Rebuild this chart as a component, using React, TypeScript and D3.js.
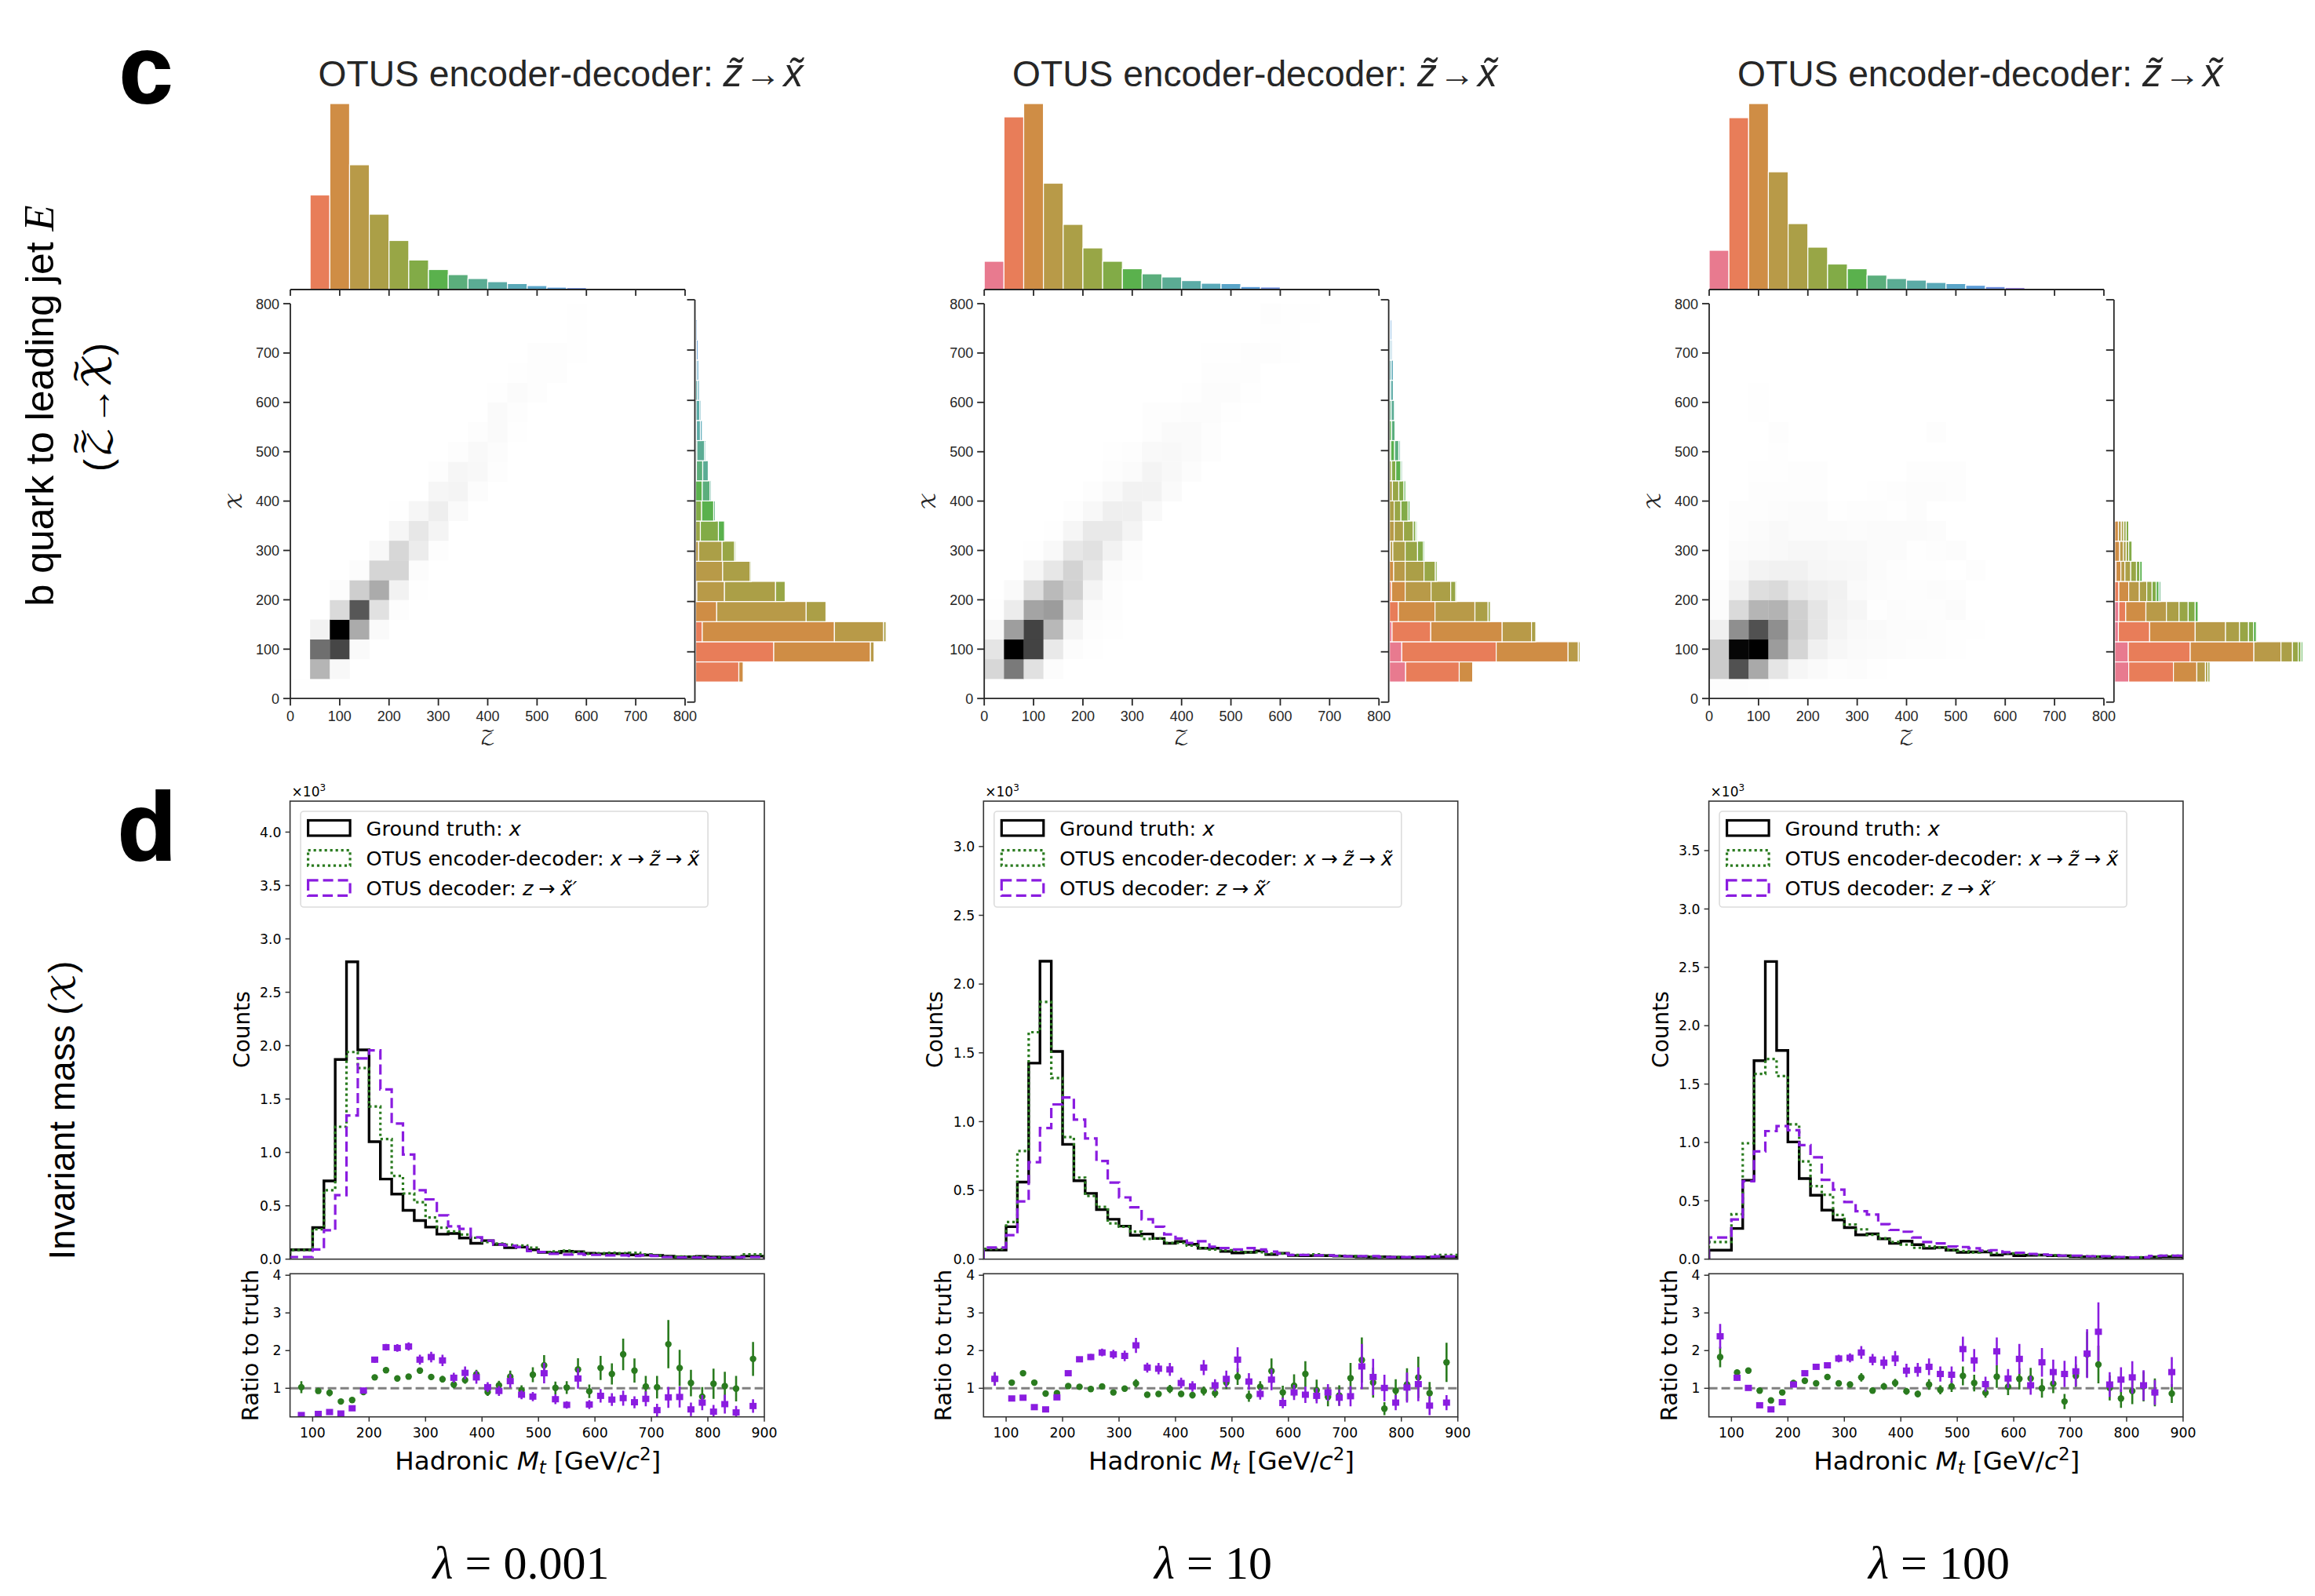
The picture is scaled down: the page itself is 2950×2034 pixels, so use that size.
import React from "react";
import * as d3 from "d3";

// ---------- shared categories ----------
const heatTicks = [0, 100, 200, 300, 400, 500, 600, 700, 800];
const binSize = 40;
const massEdges = [60, ...d3.range(100, 861, 20), 900];
const massCenters = [80, ...d3.range(110, 851, 20), 880];
const massTicks = [100, 200, 300, 400, 500, 600, 700, 800, 900];
const ratioTicks = [1, 2, 3, 4];
const binColors = ["#e87a8f", "#e87d59", "#cf8d45", "#b89a48", "#ab9f47", "#98a646", "#82ab47", "#5ab14d", "#5bae7c", "#5bac94", "#5baba6", "#5aa9b8", "#5aa5c8", "#5a9bd6", "#6d8cdc", "#9880de", "#c077dc", "#d870c8", "#e072b0", "#e87a9f"];
const panelTitles = ["λ = 0.001", "λ = 10", "λ = 100"];

// ---------- top marginals (per z bin) ----------
const topHist1 = [0, 120.5, 237, 159, 96, 62.5, 37.6, 25.5, 19, 14, 10, 7.6, 5, 3, 2.5];
const topHist2 = [36, 220, 237, 135.5, 83, 53, 36, 26.5, 20, 16, 11.4, 8, 7.6, 3.8, 3.2, 1];
const topHist3 = [50, 219, 237, 150, 84, 54, 32.5, 26.5, 18.4, 14, 12, 9, 7.6, 5.4, 3.8, 2.7, 1.6, 1.6, 0.5];

// ---------- right marginals: [y bin, first z bin, cumulative stack ends...] ----------
const sideHist1 = [
  [1, 1, 55, 60.5], [2, 1, 99.5, 222.7, 227.3], [3, 1, 8.4, 176.8, 239.5, 242.6], [4, 2, 26.8, 140.8, 166],
  [5, 2, 1.5, 36.7, 101.8, 114], [6, 3, 34.4, 69.6, 71], [7, 3, 3.8, 33.7, 49.7, 51.3], [8, 5, 6, 29, 36.7],
  [9, 6, 7.6, 23, 25], [10, 7, 8.4, 18.4, 20], [11, 7, 1, 9, 16], [12, 8, 1.5, 11.5, 13], [13, 9, 1, 6, 8.4],
  [14, 9, 0.5, 5.4, 7], [15, 10, 2.3, 4.6], [16, 11, 1.5, 3.8], [17, 12, 1, 3], [18, 13, 1.5],
];
const sideHist2 = [
  [1, 0, 20.6, 88.9, 106], [2, 0, 15.7, 136, 227.6, 240.7, 242.8], [3, 0, 3.3, 52.6, 143.6, 181, 186.4],
  [4, 1, 11.4, 58, 108.9, 125.7, 128.5], [5, 1, 2.7, 20, 53, 78, 84.6, 86], [6, 2, 5.4, 20, 44, 58.5, 60.7],
  [7, 2, 1, 4.3, 20, 35.8, 43.4, 45], [8, 3, 6, 17.9, 30.4, 33.6, 35.2], [9, 4, 6, 14.6, 23.8, 26],
  [10, 4, 3.8, 11.9, 18.4, 20.6], [11, 5, 2.7, 8, 14.6, 16.3], [12, 6, 1.6, 6.5, 11.9, 13.6], [13, 7, 2.7, 7, 8],
  [14, 8, 2.2, 6.5, 7.6], [15, 9, 1.6, 4.9], [16, 10, 2.2, 4.9], [17, 11, 1.6, 3.3], [18, 12, 1, 2.7],
];
const sideHist3 = [
  [1, 0, 17.8, 74.8, 104.6, 115.6, 118.7, 121.3], [2, 0, 17.3, 96.2, 177.3, 211.8, 226.5, 233.8, 237.4, 239.5],
  [3, 0, 4.7, 44.5, 102.5, 141.2, 159, 170.5, 176.8, 180.4], [4, 0, 5.2, 14, 39.7, 65.9, 82, 93.6, 102.5, 106.2],
  [5, 1, 5.2, 17.8, 31.4, 40.8, 47.6, 52.8, 56.5, 58.6], [6, 1, 1.6, 7.8, 13, 20.4, 27.7, 31.9, 35],
  [7, 2, 6.3, 11, 14.6, 17.8, 22], [8, 2, 4.7, 8.4, 11.5, 14.6, 17.8], [9, 3, 0.8],
];

// ---------- 2D histograms, density by row (from y = 0) and column ----------
const heat1 = [
  [0.004, 0.008],
  [0, 0.33, 0.04],
  [0, 0.6, 0.75, 0.03],
  [0, 0.07, 1, 0.37, 0.03],
  [0, 0, 0.18, 0.69, 0.15, 0.016],
  [0, 0, 0.02, 0.23, 0.37, 0.07, 0.004],
  [0, 0, 0, 0.02, 0.2, 0.2, 0.02],
  [0, 0, 0, 0, 0.04, 0.19, 0.1, 0.012],
  [0, 0, 0, 0, 0, 0.05, 0.12, 0.06],
  [0, 0, 0, 0, 0, 0.008, 0.05, 0.09, 0.03],
  [0, 0, 0, 0, 0, 0, 0, 0.05, 0.06, 0.02],
  [0, 0, 0, 0, 0, 0, 0, 0.016, 0.05, 0.04, 0.012],
  [0, 0, 0, 0, 0, 0, 0, 0, 0.012, 0.035, 0.02],
  [0, 0, 0, 0, 0, 0, 0, 0, 0, 0.016, 0.03, 0.008],
  [0, 0, 0, 0, 0, 0, 0, 0, 0, 0, 0.03, 0.016],
  [0, 0, 0, 0, 0, 0, 0, 0, 0, 0, 0.008, 0.024, 0.012],
  [0, 0, 0, 0, 0, 0, 0, 0, 0, 0, 0, 0.008, 0.016, 0.016],
  [0, 0, 0, 0, 0, 0, 0, 0, 0, 0, 0, 0, 0.016, 0.016, 0.008],
  [0, 0, 0, 0, 0, 0, 0, 0, 0, 0, 0, 0, 0, 0, 0.008],
  [0, 0, 0, 0, 0, 0, 0, 0, 0, 0, 0, 0, 0, 0, 0.008],
];
const heat2 = [
  [],
  [0.19, 0.56, 0.15, 0.02],
  [0.13, 1, 0.76, 0.11, 0.02, 0.004],
  [0.04, 0.42, 0.76, 0.32, 0.06, 0.012, 0.004],
  [0.004, 0.1, 0.4, 0.43, 0.15, 0.027, 0.016],
  [0, 0.03, 0.16, 0.31, 0.22, 0.06, 0.016],
  [0, 0, 0.05, 0.12, 0.21, 0.12, 0.027, 0.012],
  [0, 0, 0.008, 0.035, 0.12, 0.15, 0.07, 0.02],
  [0, 0, 0, 0.008, 0.05, 0.11, 0.11, 0.06],
  [0, 0, 0, 0, 0.012, 0.04, 0.085, 0.085, 0.035],
  [0, 0, 0, 0, 0, 0.012, 0.035, 0.07, 0.07, 0.03],
  [0, 0, 0, 0, 0, 0, 0.012, 0.027, 0.06, 0.04, 0.02],
  [0, 0, 0, 0, 0, 0, 0.004, 0.012, 0.035, 0.04, 0.03, 0.012],
  [0, 0, 0, 0, 0, 0, 0, 0, 0.012, 0.03, 0.03, 0.012],
  [0, 0, 0, 0, 0, 0, 0, 0, 0.012, 0.012, 0.02, 0.02, 0.004],
  [0, 0, 0, 0, 0, 0, 0, 0, 0, 0, 0.008, 0.02, 0.02, 0.004],
  [0, 0, 0, 0, 0, 0, 0, 0, 0, 0, 0, 0.016, 0.016, 0.012],
  [0, 0, 0, 0, 0, 0, 0, 0, 0, 0, 0, 0.004, 0.008, 0.012, 0.016, 0.004],
  [0, 0, 0, 0, 0, 0, 0, 0, 0, 0, 0, 0, 0, 0, 0.008, 0.004],
  [0, 0, 0, 0, 0, 0, 0, 0, 0, 0, 0, 0, 0, 0, 0.012, 0.008, 0.008],
];
const heat3 = [
  [0.012, 0.016, 0.004],
  [0.24, 0.71, 0.38, 0.13, 0.05, 0.03, 0.016, 0.02, 0.004],
  [0.24, 0.98, 1, 0.43, 0.2, 0.08, 0.047, 0.03, 0.024, 0.02, 0.012, 0.012, 0.008],
  [0.08, 0.48, 0.71, 0.48, 0.23, 0.13, 0.06, 0.035, 0.03, 0.02, 0.02, 0.016, 0.008, 0.008],
  [0.02, 0.18, 0.33, 0.34, 0.22, 0.13, 0.07, 0.05, 0.008, 0.02, 0.012, 0.016, 0.024],
  [0.016, 0.07, 0.16, 0.18, 0.11, 0.09, 0.075, 0.03, 0.02, 0.012, 0.012, 0.02, 0.012],
  [0, 0.035, 0.067, 0.075, 0.075, 0.05, 0.047, 0.04, 0.024, 0.012, 0.008, 0.004, 0, 0.016],
  [0, 0.027, 0.03, 0.035, 0.047, 0.043, 0.035, 0.035, 0.027, 0.024, 0.004, 0.016, 0.02],
  [0, 0.016, 0.027, 0.035, 0.027, 0.027, 0.027, 0.02, 0.024, 0.024, 0.024, 0.02],
  [0, 0.016, 0.016, 0.02, 0.027, 0.024, 0.004, 0.012, 0.012, 0.008, 0.02],
  [0, 0, 0.016, 0.012, 0.016, 0.012, 0, 0, 0.008, 0.012, 0.02, 0.02, 0.016],
  [0, 0, 0.008, 0.004, 0.016, 0.012, 0, 0, 0, 0, 0.012, 0.012, 0.012],
  [0, 0, 0, 0.008],
  [0, 0, 0, 0.012, 0, 0, 0, 0, 0, 0, 0, 0.012],
  [0, 0, 0.004],
  [0, 0, 0.004],
];

// ---------- invariant-mass histograms (×10³) ----------
const truth1 = [0.088, 0.295, 0.733, 1.87, 2.785, 1.96, 1.1, 0.75, 0.61, 0.457, 0.362, 0.3, 0.234, 0.24, 0.198, 0.149, 0.173, 0.137, 0.107, 0.113, 0.088, 0.064, 0.06, 0.073, 0.07, 0.055, 0.05, 0.052, 0.05, 0.04, 0.038, 0.035, 0.028, 0.02, 0.022, 0.025, 0.02, 0.018, 0.018, 0.028];
const encoded1 = [0.085, 0.28, 0.645, 1.24, 1.94, 1.79, 1.43, 1.125, 0.78, 0.615, 0.533, 0.39, 0.295, 0.26, 0.23, 0.2, 0.16, 0.145, 0.135, 0.128, 0.107, 0.067, 0.073, 0.08, 0.065, 0.05, 0.055, 0.06, 0.055, 0.06, 0.045, 0.035, 0.025, 0.025, 0.022, 0.02, 0.02, 0.02, 0.02, 0.045];
const decoded1 = [0.02, 0.09, 0.27, 0.6, 1.345, 1.88, 1.955, 1.59, 1.27, 0.98, 0.645, 0.56, 0.41, 0.307, 0.283, 0.205, 0.173, 0.137, 0.125, 0.113, 0.076, 0.067, 0.05, 0.043, 0.05, 0.04, 0.04, 0.035, 0.035, 0.03, 0.035, 0.03, 0.02, 0.015, 0.015, 0.015, 0.012, 0.012, 0.015, 0.02];
const truth2 = [0.066, 0.236, 0.56, 1.425, 2.166, 1.51, 0.835, 0.57, 0.478, 0.36, 0.29, 0.24, 0.174, 0.183, 0.15, 0.115, 0.128, 0.108, 0.08, 0.08, 0.056, 0.045, 0.05, 0.06, 0.033, 0.043, 0.026, 0.025, 0.026, 0.025, 0.022, 0.02, 0.017, 0.015, 0.017, 0.014, 0.012, 0.013, 0.013, 0.015];
const encoded2 = [0.075, 0.27, 0.786, 1.65, 1.87, 1.317, 0.888, 0.593, 0.46, 0.38, 0.26, 0.236, 0.2, 0.147, 0.15, 0.118, 0.118, 0.098, 0.08, 0.07, 0.065, 0.06, 0.05, 0.05, 0.04, 0.04, 0.03, 0.03, 0.035, 0.028, 0.025, 0.022, 0.02, 0.018, 0.015, 0.015, 0.015, 0.014, 0.018, 0.03];
const decoded2 = [0.085, 0.174, 0.42, 0.705, 0.953, 1.125, 1.176, 1.015, 0.878, 0.714, 0.557, 0.449, 0.377, 0.29, 0.236, 0.18, 0.15, 0.118, 0.13, 0.09, 0.08, 0.07, 0.08, 0.07, 0.055, 0.04, 0.03, 0.03, 0.028, 0.027, 0.024, 0.02, 0.022, 0.022, 0.015, 0.015, 0.015, 0.018, 0.018, 0.02];
const truth3 = [0.077, 0.263, 0.676, 1.7, 2.55, 1.788, 1.004, 0.69, 0.548, 0.42, 0.336, 0.27, 0.208, 0.216, 0.174, 0.135, 0.154, 0.124, 0.093, 0.1, 0.077, 0.058, 0.062, 0.062, 0.035, 0.046, 0.03, 0.033, 0.035, 0.03, 0.028, 0.022, 0.02, 0.02, 0.015, 0.013, 0.012, 0.014, 0.018, 0.02];
const encoded3 = [0.147, 0.386, 0.993, 1.587, 1.715, 1.568, 1.155, 0.838, 0.626, 0.552, 0.378, 0.297, 0.255, 0.208, 0.178, 0.147, 0.124, 0.097, 0.108, 0.1, 0.08, 0.07, 0.058, 0.07, 0.05, 0.05, 0.045, 0.04, 0.035, 0.033, 0.03, 0.028, 0.024, 0.022, 0.02, 0.015, 0.015, 0.015, 0.02, 0.03];
const decoded3 = [0.185, 0.34, 0.668, 0.923, 1.097, 1.14, 1.105, 0.977, 0.873, 0.68, 0.595, 0.49, 0.41, 0.382, 0.3, 0.25, 0.235, 0.185, 0.147, 0.135, 0.108, 0.104, 0.093, 0.073, 0.077, 0.06, 0.055, 0.045, 0.04, 0.035, 0.03, 0.03, 0.025, 0.025, 0.025, 0.018, 0.014, 0.015, 0.028, 0.03];

// ---------- ratios and their errors ----------
const ratioEnc1 = [1.03, 0.93, 0.88, 0.65, 0.69, 0.9, 1.29, 1.48, 1.26, 1.31, 1.47, 1.3, 1.24, 1.1, 1.22, 1.37, 0.9, 1.08, 1.31, 0.95, 1.36, 1.61, 1.01, 1.02, 1.5, 0.92, 1.54, 1.38, 1.9, 1.47, 1.05, 1.03, 2.17, 1.54, 1.14, 0.78, 1.12, 1.06, 0.99, 1.78];
const errEnc1 = [0.16, 0.07, 0.09, 0.05, 0.05, 0.05, 0.06, 0.07, 0.07, 0.07, 0.08, 0.08, 0.09, 0.1, 0.1, 0.12, 0.1, 0.12, 0.16, 0.13, 0.2, 0.27, 0.17, 0.17, 0.3, 0.18, 0.32, 0.28, 0.42, 0.32, 0.28, 0.3, 0.64, 0.48, 0.35, 0.25, 0.4, 0.38, 0.34, 0.45];
const ratioDec1 = [0.29, 0.32, 0.37, 0.33, 0.47, 0.94, 1.76, 2.09, 2.07, 2.11, 1.76, 1.83, 1.74, 1.28, 1.41, 1.29, 1.03, 0.93, 1.19, 0.83, 0.78, 1.4, 0.71, 0.56, 1.26, 0.57, 0.8, 0.7, 0.74, 0.63, 0.72, 0.42, 0.76, 0.77, 0.44, 0.62, 0.38, 0.58, 0.36, 0.53];
const errDec1 = [0.05, 0.05, 0.05, 0.05, 0.05, 0.07, 0.08, 0.09, 0.1, 0.11, 0.13, 0.14, 0.15, 0.13, 0.17, 0.17, 0.13, 0.13, 0.18, 0.12, 0.12, 0.27, 0.13, 0.1, 0.27, 0.12, 0.18, 0.17, 0.2, 0.16, 0.2, 0.17, 0.28, 0.28, 0.18, 0.2, 0.18, 0.25, 0.17, 0.18];
const ratioEnc2 = [1.25, 1.15, 1.4, 1.15, 0.86, 0.87, 1.06, 1.04, 0.98, 1.05, 0.89, 0.99, 1.13, 0.83, 0.85, 0.98, 0.85, 0.82, 0.93, 0.87, 1.15, 1.31, 0.79, 1.04, 1.46, 0.89, 1.07, 1.38, 0.95, 0.77, 0.81, 1.27, 1.75, 1.15, 0.46, 0.94, 1.1, 1.29, 0.87, 1.69];
const errEnc2 = [0.18, 0.05, 0.05, 0.05, 0.05, 0.06, 0.06, 0.06, 0.06, 0.07, 0.06, 0.06, 0.11, 0.06, 0.06, 0.11, 0.08, 0.09, 0.12, 0.12, 0.17, 0.22, 0.15, 0.15, 0.33, 0.18, 0.3, 0.34, 0.28, 0.25, 0.27, 0.4, 0.6, 0.4, 0.17, 0.3, 0.43, 0.55, 0.3, 0.52];
const ratioDec2 = [1.25, 0.73, 0.75, 0.5, 0.44, 0.76, 1.4, 1.77, 1.83, 1.95, 1.9, 1.86, 2.14, 1.55, 1.52, 1.5, 1.14, 1.05, 1.55, 1.08, 1.25, 1.76, 1.18, 0.85, 1.23, 0.61, 0.89, 0.83, 0.8, 0.89, 0.75, 0.79, 1.58, 1.3, 1.01, 0.62, 1.02, 1.11, 0.54, 0.62];
const errDec2 = [0.18, 0.04, 0.04, 0.03, 0.03, 0.05, 0.05, 0.07, 0.08, 0.1, 0.12, 0.14, 0.2, 0.13, 0.15, 0.17, 0.14, 0.14, 0.2, 0.16, 0.22, 0.33, 0.22, 0.15, 0.28, 0.14, 0.2, 0.22, 0.2, 0.22, 0.22, 0.27, 0.6, 0.48, 0.35, 0.2, 0.4, 0.45, 0.25, 0.2];
const ratioEnc3 = [1.83, 1.42, 1.47, 0.94, 0.68, 0.89, 1.14, 1.2, 1.13, 1.3, 1.13, 1.1, 1.29, 0.94, 1.05, 1.14, 0.92, 0.85, 1.1, 0.96, 1.05, 1.33, 1.14, 0.88, 1.31, 1.04, 1.25, 1.26, 1, 1.12, 0.65, 1.33, 1.9, 1.63, 1.01, 0.73, 0.93, 1.05, 0.89, 0.86];
const errEnc3 = [0.27, 0.08, 0.06, 0.05, 0.05, 0.06, 0.07, 0.07, 0.07, 0.08, 0.08, 0.08, 0.11, 0.08, 0.09, 0.11, 0.09, 0.09, 0.14, 0.12, 0.15, 0.25, 0.22, 0.13, 0.3, 0.22, 0.28, 0.28, 0.25, 0.25, 0.2, 0.3, 0.6, 0.5, 0.33, 0.25, 0.35, 0.4, 0.37, 0.25];
const ratioDec3 = [2.38, 1.28, 1.01, 0.55, 0.44, 0.63, 1.1, 1.4, 1.57, 1.61, 1.79, 1.81, 1.95, 1.76, 1.68, 1.79, 1.47, 1.49, 1.57, 1.38, 1.36, 2.04, 1.74, 1.11, 1.98, 1.26, 1.78, 1.08, 1.69, 1.43, 1.38, 1.45, 1.92, 2.5, 1.1, 1.23, 1.29, 1.08, 0.89, 1.43];
const errDec3 = [0.33, 0.08, 0.05, 0.04, 0.03, 0.05, 0.06, 0.07, 0.07, 0.08, 0.1, 0.12, 0.17, 0.15, 0.17, 0.2, 0.18, 0.18, 0.22, 0.2, 0.22, 0.33, 0.3, 0.2, 0.37, 0.25, 0.4, 0.25, 0.38, 0.33, 0.35, 0.4, 0.65, 0.78, 0.33, 0.33, 0.43, 0.4, 0.33, 0.4];

// ---------- tick sets for the count axes ----------
const countTicks1 = [0, 0.5, 1, 1.5, 2, 2.5, 3, 3.5, 4];
const countTicks2 = [0, 0.5, 1, 1.5, 2, 2.5, 3];
const countTicks3 = [0, 0.5, 1, 1.5, 2, 2.5, 3, 3.5];

const SANS = "'Liberation Sans', Arial, sans-serif";
const DJ = "'DejaVu Sans', sans-serif";
const SERIF = "'Liberation Serif', serif";
const SCRIPT = "'DejaVu Math TeX Gyre', 'DejaVu Serif', serif";
const INK = "#262626";
const GREEN = "#2a7b1f";
const PURPLE = "#8a1ce0";

const jointPanels = [
  { x0: 370, side: 885.5, top: topHist1, right: sideHist1, heat: heat1, titleX: 405.6 },
  { x0: 1254.2, side: 1769.6, top: topHist2, right: sideHist2, heat: heat2, titleX: 1290 },
  { x0: 2178, side: 2693.8, top: topHist3, right: sideHist3, heat: heat3, titleX: 2214 },
];
const massPanels = [
  { x0: 369.6, x1: 974, yMax: 4.29, ticks: countTicks1, truth: truth1, enc: encoded1, dec: decoded1, re: ratioEnc1, ee: errEnc1, rd: ratioDec1, ed: errDec1, lambdaX: 664 },
  { x0: 1253.3, x1: 1857.7, yMax: 3.33, ticks: countTicks2, truth: truth2, enc: encoded2, dec: decoded2, re: ratioEnc2, ee: errEnc2, rd: ratioDec2, ed: errDec2, lambdaX: 1546 },
  { x0: 2177.6, x1: 2781.9, yMax: 3.924, ticks: countTicks3, truth: truth3, enc: encoded3, dec: decoded3, re: ratioEnc3, ee: errEnc3, rd: ratioDec3, ed: errDec3, lambdaX: 2471 },
];

function Joint({ p }: { p: (typeof jointPanels)[number] }) {
  const x = d3.scaleLinear().domain([0, 800]).range([p.x0, p.x0 + 503]);
  const y = d3.scaleLinear().domain([0, 800]).range([890.2, 387]);
  const ySide = d3.scaleLinear().domain([0, 800]).range([894.8, 382]);
  const grey = d3.scalePow<string>().exponent(1.12).domain([0, 1]).range(["#ffffff", "#000000"]);
  const base = 369;
  return (
    <g fontFamily={SANS} fill={INK}>
      <text x={p.titleX} y={110} fontSize={46.2}>
        OTUS encoder-decoder: <tspan fontStyle="italic" fontSize={50}>z̃</tspan><tspan dx={3} fontSize={46}>→</tspan><tspan dx={3} fontStyle="italic" fontSize={50}>x̃</tspan>
      </text>
      {p.heat.map((row, r) =>
        row.map((v, c) =>
          v > 0 ? (
            <rect key={`${r}-${c}`} x={x(c * binSize)} y={y((r + 1) * binSize)} width={x((c + 1) * binSize) - x(c * binSize) + 0.3} height={y(r * binSize) - y((r + 1) * binSize) + 0.3} fill={grey(v)} />
          ) : null
        )
      )}
      {p.top.map((v, c) =>
        v > 0 ? (
          <rect key={c} x={x(c * binSize)} y={base - v} width={x((c + 1) * binSize) - x(c * binSize)} height={v} fill={binColors[c]} stroke="#fff" strokeWidth={1.2} />
        ) : null
      )}
      {p.right.map((row) => {
        const [r, first, ...ends] = row;
        return ends.map((e, i) => {
          const start = i === 0 ? 0 : ends[i - 1];
          return (
            <rect key={`${r}-${i}`} x={p.side + 1 + start} y={ySide((r + 1) * binSize)} width={e - start} height={ySide(r * binSize) - ySide((r + 1) * binSize)} fill={binColors[first + i]} stroke="#fff" strokeWidth={1.2} />
          );
        });
      })}
      <line x1={x(0)} x2={x(0)} y1={y(0)} y2={y(800)} stroke={INK} strokeWidth={1.8} />
      <line x1={x(0)} x2={x(800)} y1={y(0)} y2={y(0)} stroke={INK} strokeWidth={1.8} />
      {heatTicks.map((t) => (
        <g key={t}>
          <line x1={x(0) - 9} x2={x(0)} y1={y(t)} y2={y(t)} stroke={INK} strokeWidth={1.8} />
          <text x={x(0) - 14} y={y(t) + 6.5} fontSize={18} textAnchor="end">{t}</text>
          <line x1={x(t)} x2={x(t)} y1={y(0)} y2={y(0) + 9} stroke={INK} strokeWidth={1.8} />
          <text x={x(t)} y={y(0) + 29} fontSize={18} textAnchor="middle">{t}</text>
          <line x1={x(t)} x2={x(t)} y1={base} y2={base + 8} stroke={INK} strokeWidth={1.8} />
          <line x1={p.side - 10} x2={p.side} y1={ySide(t)} y2={ySide(t)} stroke={INK} strokeWidth={1.8} />
        </g>
      ))}
      <line x1={x(0)} x2={x(800)} y1={base} y2={base} stroke={INK} strokeWidth={1.8} />
      <line x1={p.side} x2={p.side} y1={ySide(0)} y2={ySide(800)} stroke={INK} strokeWidth={1.8} />
      <text x={(x(0) + x(800)) / 2} y={948} fontSize={24} fontFamily={SCRIPT} textAnchor="middle">𝒵</text>
      <text transform={`translate(${x(0) - 62},${(y(0) + y(800)) / 2}) rotate(-90)`} fontSize={24} fontFamily={SCRIPT} textAnchor="middle">𝒳</text>
    </g>
  );
}

function stepPath(values: number[], x: d3.ScaleLinear<number, number>, y: d3.ScaleLinear<number, number>) {
  const pts: [number, number][] = [[massEdges[0], 0]];
  values.forEach((v, i) => {
    pts.push([massEdges[i], v], [massEdges[i + 1], v]);
  });
  pts.push([massEdges[massEdges.length - 1], 0]);
  return d3.line<[number, number]>().x((d) => x(d[0])).y((d) => y(d[1]))(pts) as string;
}

function Mass({ p, idx }: { p: (typeof massPanels)[number]; idx: number }) {
  const x = d3.scaleLinear().domain([60, 900]).range([p.x0, p.x1]);
  const y = d3.scaleLinear().domain([0, p.yMax]).range([1604.7, 1021]);
  const yr = d3.scaleLinear().domain([0.242, 4.04]).range([1805.7, 1623.3]);
  const spine = "#333";
  const legendX = p.x0 + 13.5;
  const dot = "3.2 3.8";
  const dash = "13 6";
  const handles = [
    { stroke: "#000", dash: undefined as string | undefined },
    { stroke: GREEN, dash: dot },
    { stroke: PURPLE, dash },
  ];
  return (
    <g fontFamily={DJ} fill="#000">
      <defs>
        <clipPath id={`main${idx}`}><rect x={p.x0} y={1021} width={p.x1 - p.x0} height={583.7} /></clipPath>
        <clipPath id={`ratio${idx}`}><rect x={p.x0} y={1623.3} width={p.x1 - p.x0} height={182.4} /></clipPath>
      </defs>
      <text x={p.x0 + 2} y={1015} fontSize={17}>×10<tspan dy={-7} fontSize={12}>3</tspan></text>
      <g clipPath={`url(#main${idx})`} fill="none">
        <path d={stepPath(p.truth, x, y)} stroke="#000" strokeWidth={3.4} />
        <path d={stepPath(p.enc, x, y)} stroke={GREEN} strokeWidth={3.2} strokeDasharray={dot} />
        <path d={stepPath(p.dec, x, y)} stroke={PURPLE} strokeWidth={3.2} strokeDasharray={dash} />
      </g>
      <rect x={p.x0} y={1021} width={p.x1 - p.x0} height={583.7} fill="none" stroke={spine} strokeWidth={1.6} />
      {p.ticks.map((t) => (
        <g key={t}>
          <line x1={p.x0 - 6} x2={p.x0} y1={y(t)} y2={y(t)} stroke={spine} strokeWidth={1.5} />
          <text x={p.x0 - 11} y={y(t) + 6.2} fontSize={17.3} textAnchor="end">{t.toFixed(1)}</text>
        </g>
      ))}
      <text transform={`translate(${p.x0 - 52},1312) rotate(-90)`} fontSize={28} textAnchor="middle">Counts</text>
      <rect x={p.x0 + 13.5} y={1034} width={519} height={122} rx={4} fill="#fff" fillOpacity={0.8} stroke="#dcdcdc" strokeWidth={1.6} />
      {handles.map((h, i) => (
        <rect key={i} x={legendX + 9.5} y={1045.5 + i * 38.2} width={53.5} height={19.5} fill="none" stroke={h.stroke} strokeWidth={3.2} strokeDasharray={h.dash} />
      ))}
      <g fontSize={25.6}>
        <text x={legendX + 83.5} y={1065}>Ground truth: <tspan fontStyle="italic">x</tspan></text>
        <text x={legendX + 83.5} y={1103.2}>OTUS encoder-decoder: <tspan fontStyle="italic">x</tspan><tspan dx={6.7}>→</tspan><tspan dx={6.7} fontStyle="italic">z̃</tspan><tspan dx={6.7}>→</tspan><tspan dx={6.7} fontStyle="italic">x̃</tspan></text>
        <text x={legendX + 83.5} y={1141.4}>OTUS decoder: <tspan fontStyle="italic">z</tspan><tspan dx={6.7}>→</tspan><tspan dx={6.7} fontStyle="italic">x̃′</tspan></text>
      </g>
      <g clipPath={`url(#ratio${idx})`}>
        <line x1={p.x0} x2={p.x1} y1={yr(1)} y2={yr(1)} stroke="#808080" strokeWidth={3} strokeDasharray="11 5" />
        {massCenters.map((c, i) => (
          <g key={`e${i}`}>
            <line x1={x(c)} x2={x(c)} y1={yr(p.re[i] - p.ee[i])} y2={yr(p.re[i] + p.ee[i])} stroke={GREEN} strokeWidth={2.6} />
            <circle cx={x(c)} cy={yr(p.re[i])} r={4.2} fill={GREEN} />
          </g>
        ))}
        {massCenters.map((c, i) => (
          <g key={`d${i}`}>
            <line x1={x(c)} x2={x(c)} y1={yr(p.rd[i] - p.ed[i])} y2={yr(p.rd[i] + p.ed[i])} stroke={PURPLE} strokeWidth={2.6} />
            <rect x={x(c) - 4.5} y={yr(p.rd[i]) - 4} width={9} height={8} fill={PURPLE} />
          </g>
        ))}
      </g>
      <rect x={p.x0} y={1623.3} width={p.x1 - p.x0} height={182.4} fill="none" stroke={spine} strokeWidth={1.6} />
      {ratioTicks.map((t) => (
        <g key={t}>
          <line x1={p.x0 - 6} x2={p.x0} y1={yr(t)} y2={yr(t)} stroke={spine} strokeWidth={1.5} />
          <text x={p.x0 - 11} y={yr(t) + 6.2} fontSize={17.3} textAnchor="end">{t}</text>
        </g>
      ))}
      {massTicks.map((t) => (
        <g key={t}>
          <line x1={x(t)} x2={x(t)} y1={1805.7} y2={1811.7} stroke={spine} strokeWidth={1.5} />
          <text x={x(t)} y={1832} fontSize={17.3} textAnchor="middle">{t}</text>
        </g>
      ))}
      <text transform={`translate(${p.x0 - 41},1714.5) rotate(-90)`} fontSize={29} textAnchor="middle">Ratio to truth</text>
      <text x={(p.x0 + p.x1) / 2 + 1} y={1873} fontSize={32.5} textAnchor="middle">
        Hadronic <tspan fontStyle="italic">M</tspan><tspan dy={5} fontSize={23} fontStyle="italic">t</tspan><tspan dy={-5}> [GeV/</tspan><tspan fontStyle="italic">c</tspan><tspan dy={-12} fontSize={23}>2</tspan><tspan dy={12}>]</tspan>
      </text>
      <text x={p.lambdaX} y={2012} fontSize={60} fontFamily={SERIF} textAnchor="middle">
        <tspan fontStyle="italic">{panelTitles[idx].slice(0, 1)}</tspan>{panelTitles[idx].slice(1)}
      </text>
    </g>
  );
}

export default function App() {
  return (
    <svg width={2950} height={2034} viewBox="0 0 2950 2034" style={{ position: "absolute", left: 0, top: 0, background: "#fff" }}>
      <text x={152} y={131} fontFamily={SANS} fontWeight={700} fontSize={122} fill="#000" stroke="#000" strokeWidth={2}>c</text>
      <text x={150} y={1096} fontFamily={SANS} fontWeight={700} fontSize={122} fill="#000" stroke="#000" strokeWidth={2}>d</text>
      <g fontFamily={SANS} fill="#000">
        <text transform="translate(68,517) rotate(-90)" fontSize={50} textAnchor="middle">
          b quark to leading jet <tspan fontFamily={SERIF} fontStyle="italic" fontSize={54}>E</tspan>
        </text>
        <g transform="translate(141,519) rotate(-90)" textAnchor="middle" fontSize={48}>
          <text x={-74}>(</text>
          <text x={-44} fontFamily={SCRIPT}>𝒵</text>
          <text x={-46} y={-28}>~</text>
          <text x={2}>→</text>
          <text x={46} fontFamily={SCRIPT}>𝒳</text>
          <text x={46} y={-28}>~</text>
          <text x={74}>)</text>
        </g>
        <text transform="translate(95,1415) rotate(-90)" fontSize={46} textAnchor="middle">
          Invariant mass (<tspan fontFamily={SCRIPT} fontSize={40}>𝒳</tspan>)
        </text>
      </g>
      {jointPanels.map((p, i) => <Joint key={i} p={p} />)}
      {massPanels.map((p, i) => <Mass key={i} p={p} idx={i} />)}
    </svg>
  );
}
